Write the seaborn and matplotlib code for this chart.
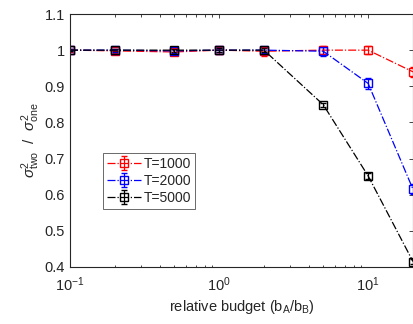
import numpy as np
import pandas as pd
import matplotlib
matplotlib.use("Agg")
import matplotlib.pyplot as plt
import seaborn as sns

# budget ratios b_A/b_B
budget = [0.1, 0.2, 0.5, 1, 2, 5, 10, 20]

# variance ratio sigma^2_two / sigma^2_one
t1000 = [1.0, 0.998, 0.995, 1.0, 0.997, 1.0, 1.0, 0.94]
t2000 = [1.0, 1.0, 0.998, 1.0, 1.0, 0.997, 0.908, 0.615]
t5000 = [1.0, 1.0, 1.0, 1.0, 1.0, 0.849, 0.652, 0.415]

err1000 = [0.004, 0.006, 0.008, 0.01, 0.012, 0.012, 0.012, 0.014]
err2000 = [0.003, 0.004, 0.005, 0.006, 0.008, 0.012, 0.015, 0.014]
err5000 = [0.002, 0.003, 0.004, 0.005, 0.006, 0.006, 0.008, 0.008]

labels = ["T=1000", "T=2000", "T=5000"]
colors = ["#ff0000", "#0000ff", "#000000"]

sns.set_theme(style="white")
plt.rcParams['font.family'] = ['Liberation Sans', 'DejaVu Sans']
plt.rcParams['mathtext.fontset'] = 'custom'
plt.rcParams['mathtext.rm'] = 'Liberation Sans'
plt.rcParams['mathtext.it'] = 'Liberation Sans:italic'

fig = plt.figure(figsize=(4.13, 3.24), dpi=100)
ax = fig.add_axes([70/413, 1 - 267/324, 343/413, 253/324])

series = [(t1000, err1000), (t2000, err2000), (t5000, err5000)]
for (vals, err), lab, c in zip(series, labels, colors):
    ax.errorbar(budget, vals, yerr=err, color=c, ls='-.', lw=0.9,
                marker='s', ms=5.5, mfc='none', mec=c, mew=1.0,
                capsize=2.5, elinewidth=0.9, label=lab)

ax.set_xscale('log')
ax.set_xlim(0.1, 20)
ax.set_ylim(0.4, 1.1)
ax.set_yticks([0.4, 0.5, 0.6, 0.7, 0.8, 0.9, 1.0, 1.1])
ax.set_yticklabels(["0.4", "0.5", "0.6", "0.7", "0.8", "0.9", "1", "1.1"])
ax.set_xticks([0.1, 1, 10])
ax.set_xticklabels([r"$10^{-1}$", r"$10^{0}$", r"$10^{1}$"])

ax.tick_params(which='both', direction='in', top=True, right=True,
               labelsize=10.5, colors='#262626', width=0.6)
ax.tick_params(which='major', length=3)
ax.tick_params(axis='x', pad=6)
ax.tick_params(which='minor', length=1.8, bottom=True, top=True)
for sp in ax.spines.values():
    sp.set_color('#262626')
    sp.set_linewidth(0.8)

ax.set_xlabel(r"relative budget (b$_\mathrm{A}$/b$_\mathrm{B}$)", fontsize=10.5,
              color='#262626', labelpad=3)
ax.set_ylabel(r"$\sigma^2_{\mathrm{two}}$  /  $\sigma^2_{\mathrm{one}}$", fontsize=11,
              color='#262626', labelpad=2)

leg = ax.legend(loc='upper left', bbox_to_anchor=(33/343, 1 - 139/253),
                fontsize=10, frameon=True, fancybox=False, handlelength=2.4,
                handletextpad=0.2, borderpad=0.3, labelspacing=0.2,
                borderaxespad=0)
leg.get_frame().set_edgecolor('#262626')
leg.get_frame().set_linewidth(0.6)

fig.savefig("out.png", dpi=100)
